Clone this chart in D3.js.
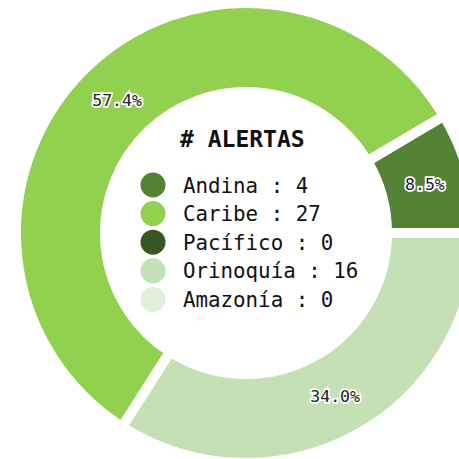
<!DOCTYPE html>
<html>
<head>
<meta charset="utf-8">
<script src="https://cdn.jsdelivr.net/npm/d3@7"></script>
<style>
  body { margin: 0; background: #fff; }
  text { font-family: "DejaVu Sans Mono", monospace; }
</style>
</head>
<body>
<div id="chart"></div>
<script>
// data
var regions = ["Andina", "Caribe", "Pacífico", "Orinoquía", "Amazonía"];
var alertas = [4, 27, 0, 16, 0];
var colors = ["#548235", "#92d050", "#385723", "#c5e0b4", "#e2f0d9"];
var title = "# ALERTAS";

var width = 459, height = 459;
var cx = 246, cy = 233;
var outerR = 230, innerR = 141, gap = 10;

var svg = d3.select("#chart")
  .append("svg")
  .attr("width", width)
  .attr("height", height);

var g = svg.append("g")
  .attr("transform", "translate(" + cx + "," + cy + ")");

var total = d3.sum(alertas);

// starts at 3 o'clock, goes counter-clockwise (like matplotlib)
var pie = d3.pie()
  .sort(null)
  .value((d) => d)
  .startAngle(Math.PI / 2)
  .endAngle(Math.PI / 2 - 2 * Math.PI);

var arcs = pie(alertas);

var arc = d3.arc().innerRadius(innerR).outerRadius(outerR);

g.selectAll("path.slice")
  .data(arcs)
  .enter()
  .append("path")
  .attr("class", "slice")
  .attr("d", arc)
  .attr("fill", (d, i) => colors[i])
  .attr("stroke", "#fff")
  .attr("stroke-width", gap)
  .attr("stroke-linejoin", "miter");

// percent labels in the middle of the ring
var labelArc = d3.arc()
  .innerRadius((outerR + innerR) / 2)
  .outerRadius((outerR + innerR) / 2);

g.selectAll("text.pct")
  .data(arcs.filter((d) => d.value > 0))
  .enter()
  .append("text")
  .attr("class", "pct")
  .attr("transform", (d) => "translate(" + labelArc.centroid(d) + ")")
  .attr("text-anchor", "middle")
  .attr("dy", "0.36em")
  .style("font-size", "16.5px")
  .attr("fill", "#222")
  .attr("stroke", "#fff")
  .attr("stroke-width", 3.5)
  .attr("paint-order", "stroke")
  .text((d) => d3.format(".1f")((d.value / total) * 100) + "%");

// legend inside the hole
svg.append("text")
  .attr("x", 180)
  .attr("y", 147)
  .style("font-size", "23px")
  .style("font-weight", "bold")
  .attr("fill", "#111")
  .text(title);

var legend = svg.selectAll(".legend")
  .data(regions)
  .enter()
  .append("g")
  .attr("class", "legend")
  .attr("transform", (d, i) => "translate(153," + (185 + i * 28.6) + ")");

legend.append("circle")
  .attr("r", 12.5)
  .attr("fill", (d, i) => colors[i]);

legend.append("text")
  .attr("x", 30)
  .attr("dy", "0.36em")
  .style("font-size", "20.8px")
  .attr("fill", "#111")
  .text((d, i) => d + " : " + alertas[i]);
</script>
</body>
</html>
